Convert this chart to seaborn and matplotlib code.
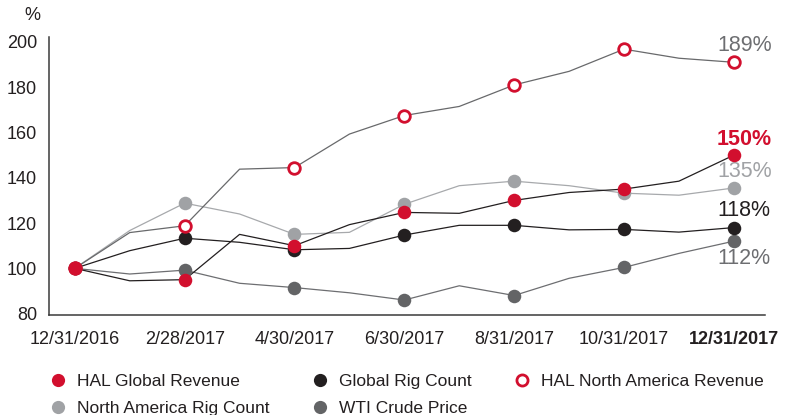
import numpy as np
import pandas as pd
import matplotlib
matplotlib.use("Agg")
import matplotlib.pyplot as plt
from matplotlib.lines import Line2D
import seaborn as sns

# monthly index values, 12/31/2016 = 100
months = list(range(13))
tick_months = [0, 2, 4, 6, 8, 10, 12]
tick_labels = ["12/31/2016", "2/28/2017", "4/30/2017", "6/30/2017",
               "8/31/2017", "10/31/2017", "12/31/2017"]

hal_global = [100, 94.5, 95, 115, 110, 119.3, 124.7, 124.3, 130, 133.5, 135, 138.5, 150]
global_rig = [100, 107.8, 113.3, 111.5, 108.2, 108.8, 114.7, 119, 119, 117, 117.2, 116, 118]
hal_na = [100, 115.8, 118.8, 143.8, 144.5, 159.3, 167.5, 171.5, 181, 187, 196.8, 192.8, 191]
na_rig = [100, 116.7, 128.8, 124, 115, 115.9, 128.3, 136.5, 138.5, 136.5, 133.2, 132.3, 135.5]
wti = [100, 97.5, 99.2, 93.4, 91.5, 89.2, 86, 92.3, 88, 95.6, 100.4, 106.6, 112]

end_labels = ["189%", "150%", "135%", "118%", "112%"]

RED = "#d20f2e"
BLACK = "#231f20"
LGRAY = "#a0a2a5"
DGRAY = "#636466"
TGRAY = "#6d6e71"

sns.set_style("white")
plt.rcParams["font.family"] = ["Liberation Sans", "DejaVu Sans"]

df = pd.DataFrame({
    "month": months,
    "HAL Global Revenue": hal_global,
    "Global Rig Count": global_rig,
    "HAL North America Revenue": hal_na,
    "North America Rig Count": na_rig,
    "WTI Crude Price": wti,
})
marks = df[df["month"].isin(tick_months)]

fig = plt.figure(figsize=(7.88, 4.15), dpi=100)
ax = fig.add_axes([0.0622, 0.241, 0.9088, 0.67])

# lines
line_cols = {
    "WTI Crude Price": TGRAY,
    "North America Rig Count": "#a7a9ac",
    "HAL North America Revenue": "#68696b",
    "Global Rig Count": BLACK,
    "HAL Global Revenue": BLACK,
}
for name, c in line_cols.items():
    sns.lineplot(data=df, x="month", y=name, color=c, linewidth=0.9, ax=ax, zorder=2)

# markers every other month
sns.scatterplot(data=marks, x="month", y="WTI Crude Price", color=DGRAY, s=95,
                linewidth=0, ax=ax, zorder=3)
sns.scatterplot(data=marks, x="month", y="North America Rig Count", color=LGRAY, s=95,
                linewidth=0, ax=ax, zorder=3)
sns.scatterplot(data=marks, x="month", y="Global Rig Count", color=BLACK, s=95,
                linewidth=0, ax=ax, zorder=4)
sns.scatterplot(data=marks, x="month", y="HAL North America Revenue", facecolor="white",
                edgecolor=RED, s=70, linewidth=2, ax=ax, zorder=5)
sns.scatterplot(data=marks, x="month", y="HAL Global Revenue", color=RED, s=95,
                linewidth=0, ax=ax, zorder=6)

ax.set_xlim(-0.47, 12.57)
ax.set_ylim(79.4, 202.2)
ax.set_yticks(range(80, 201, 20))
ax.set_xticks(tick_months)
ax.set_xticklabels(tick_labels)
ax.set_xlabel("")
ax.set_ylabel("")
ax.tick_params(axis="y", length=0, pad=8.5, labelsize=13, labelcolor=BLACK)
ax.tick_params(axis="x", length=0, pad=11.5, labelsize=13, labelcolor=BLACK)
ax.get_xticklabels()[-1].set_fontweight("bold")

sns.despine(ax=ax)
for side in ["left", "bottom"]:
    ax.spines[side].set_color("#3a3a3a")
    ax.spines[side].set_linewidth(1.1)

fig.text(32 / 788, 1 - 16 / 415, "%", ha="center", va="center", fontsize=13, color=BLACK)

# end-of-period labels
last = df.iloc[-1]
ends = [
    ("HAL North America Revenue", end_labels[0], TGRAY, "normal", 12),
    ("HAL Global Revenue", end_labels[1], RED, "bold", 11.5),
    ("North America Rig Count", end_labels[2], LGRAY, "normal", 11.5),
    ("Global Rig Count", end_labels[3], BLACK, "normal", 12),
    ("WTI Crude Price", end_labels[4], TGRAY, "normal", -12.5),
]
for name, txt, c, w, dy in ends:
    ax.annotate(txt, xy=(12, last[name]), xytext=(7.5, dy), textcoords="offset points",
                ha="center", va="center", fontsize=15.5, color=c, fontweight=w,
                annotation_clip=False)

# legend, two rows
def dot(c, hollow=False):
    if hollow:
        return Line2D([], [], marker="o", linestyle="", markersize=8,
                      markerfacecolor="white", markeredgecolor=c, markeredgewidth=2)
    return Line2D([], [], marker="o", linestyle="", markersize=9.5,
                  markerfacecolor=c, markeredgewidth=0)

handles = [dot(RED), dot(LGRAY), dot(BLACK), dot(DGRAY), dot(RED, True)]
labels = ["HAL Global Revenue", "North America Rig Count", "Global Rig Count",
          "WTI Crude Price", "HAL North America Revenue"]
fig.legend(handles, labels, ncol=3, loc="upper left",
           bbox_to_anchor=(49.3 / 788, 1 - 374 / 415), frameon=False,
           fontsize=12.5, handlelength=1.0, handletextpad=0.6,
           columnspacing=2.4, labelspacing=0.7, borderpad=0, borderaxespad=0,
           labelcolor=BLACK)

fig.savefig("out.png", dpi=100)
